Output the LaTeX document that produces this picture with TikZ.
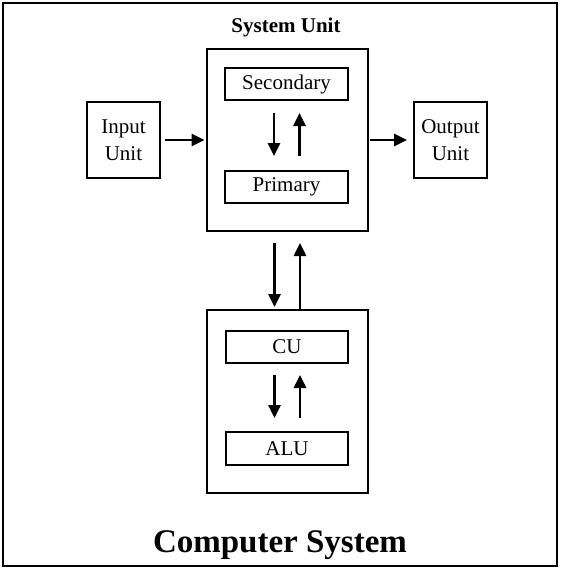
\documentclass[tikz,border=0pt]{standalone}
\usepackage{fontspec}
\setmainfont{Liberation Serif}
\usetikzlibrary{arrows.meta}
\tikzset{
    unitbox/.style={draw, line width=2pt, minimum width=73pt, minimum height=76pt,
        align=center, inner sep=0pt, font=\fontsize{21}{27}\selectfont},
    partbox/.style={draw, line width=2pt, minimum width=123pt, minimum height=32pt,
        inner sep=0pt, font=\fontsize{21}{26}\selectfont},
    bigbox/.style={draw, line width=2pt, minimum width=161pt, inner sep=0pt},
    arr/.style={line width=2.8pt, -{Triangle[length=13pt,width=12pt]}}
}
\begin{document}
\begin{tikzpicture}[x=1pt, y=-1pt]
    \useasboundingbox (0,0) rectangle (561,568);
    \def\lo{12.5}
    \def\hi{13}
    \draw [line width=2pt] (3,3) rectangle (557,566);
    % system unit with its storage
    \node [bigbox, minimum height=182pt] (sys) at (287,140) {};
    \node [font=\fontsize{21}{24}\selectfont\bfseries] (systitle) at (286,27) {System Unit};
    \node [partbox] (sec) at (286.5,84) {Secondary};
    \node [partbox] (pri) at (286.5,187) {Primary};
    \node [unitbox] (inp) at (123.5,140) {Input\\Unit};
    \node [unitbox] (out) at (450.5,140) {Output\\Unit};
    % processor
    \node [bigbox, minimum height=183pt] (proc) at (287,401.5) {};
    \node [partbox, minimum width=122pt] (cu) at (287,347) {CU};
    \node [partbox, minimum width=122pt, minimum height=33pt] (alu) at (287,448.5) {ALU};
    \node [font=\fontsize{33}{36}\selectfont\bfseries] (title) at (280,545) {Computer System};
    % connectors
    \draw [arr, shorten <=4pt, shorten >=1pt] (inp) -- (sys);
    \draw [arr, shorten <=1pt, shorten >=6pt] (sys) -- (out);
    \draw [arr, shorten <=12pt, shorten >=14pt] ([xshift=-\lo pt]sec.south) -- ([xshift=-\lo pt]pri.north);
    \draw [arr, shorten <=14pt, shorten >=12pt] ([xshift=\hi pt]pri.north) -- ([xshift=\hi pt]sec.south);
    \draw [arr, shorten <=11pt, shorten >=2pt] ([xshift=-\lo pt]sys.south) -- ([xshift=-\lo pt]proc.north);
    \draw [arr, shorten >=11pt] ([xshift=\hi pt]proc.north) -- ([xshift=\hi pt]sys.south);
    \draw [arr, shorten <=11pt, shorten >=13pt] ([xshift=-\lo pt]cu.south) -- ([xshift=-\lo pt]alu.north);
    \draw [arr, shorten <=13pt, shorten >=11pt] ([xshift=\hi pt]alu.north) -- ([xshift=\hi pt]cu.south);
\end{tikzpicture}
\end{document}
